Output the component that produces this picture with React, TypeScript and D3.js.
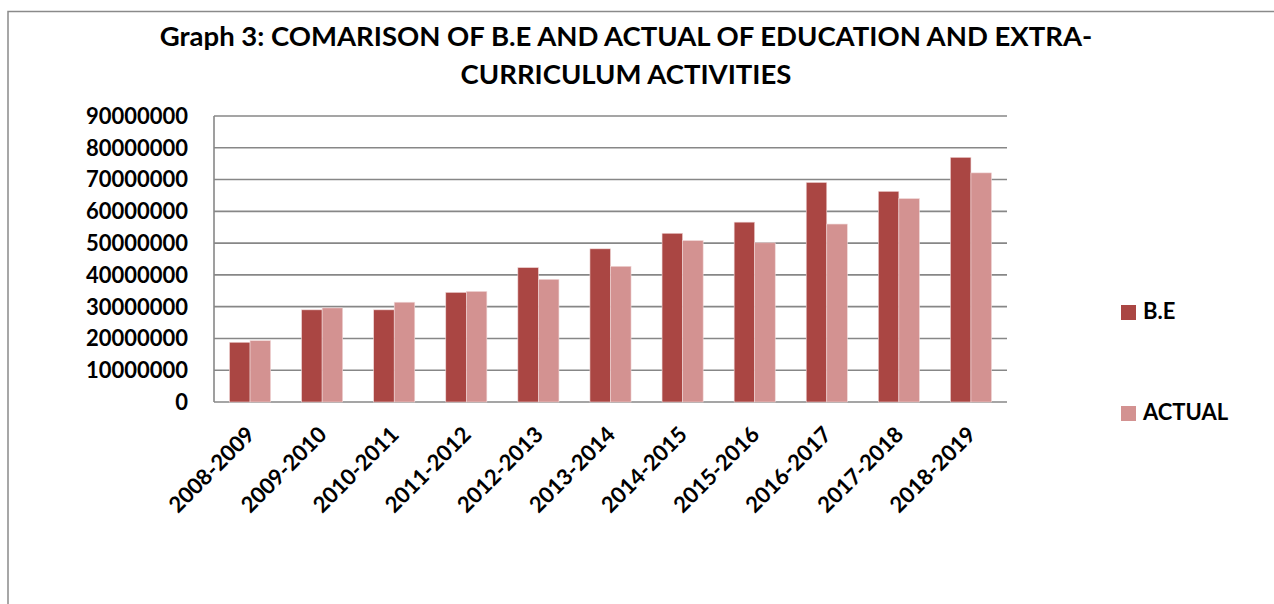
import React from 'react';
import * as d3 from 'd3';

// fiscal years on the x axis
const years = [
  '2008-2009', '2009-2010', '2010-2011', '2011-2012', '2012-2013', '2013-2014',
  '2014-2015', '2015-2016', '2016-2017', '2017-2018', '2018-2019',
];

// budget estimate vs actual spending
const beValues = [18800000, 29000000, 29000000, 34500000, 42300000, 48200000, 53100000, 56600000, 69100000, 66300000, 77000000];
const actualValues = [19300000, 29600000, 31400000, 34800000, 38600000, 42700000, 50800000, 50100000, 56000000, 64000000, 72100000];

const seriesNames = ['B.E', 'ACTUAL'];
const seriesColors = ['#AA4643', '#D39291'];
const yTicks = [0, 10000000, 20000000, 30000000, 40000000, 50000000, 60000000, 70000000, 80000000, 90000000];

const titleLines = ['Graph 3: COMARISON OF B.E AND ACTUAL OF EDUCATION AND EXTRA-', 'CURRICULUM ACTIVITIES'];

const W = 1274;
const H = 604;
const plot = { left: 214, right: 1007, top: 116, bottom: 402 };
const font = 'Lato, "Open Sans", sans-serif';

const App: React.FC = () => {
  const x0 = d3.scaleBand<string>()
    .domain(years)
    .range([plot.left, plot.right])
    .paddingInner(0.43)
    .paddingOuter(0.215);

  const x1 = d3.scaleBand<string>()
    .domain(seriesNames)
    .range([0, x0.bandwidth()]);

  const y = d3.scaleLinear()
    .domain([0, 90000000])
    .range([plot.bottom, plot.top]);

  const data = [beValues, actualValues];

  return (
    <svg width={W} height={H} style={{ position: 'fixed', left: 0, top: 0, background: '#fff' }}>
      {/* chart frame, runs off the right and bottom */}
      <rect x={8} y={11.5} width={W + 20} height={H + 20} fill="#fff" stroke="#8a8a8a" strokeWidth={1.5} />

      {titleLines.map((t, i) => (
        <text key={i} x={626} y={46 + i * 38} textAnchor="middle" fontFamily={font}
          fontWeight="bold" fontSize={27.5} fill="#000">{t}</text>
      ))}

      {/* gridlines */}
      {yTicks.map(t => (
        <line key={t} x1={plot.left} x2={plot.right} y1={y(t)} y2={y(t)} stroke="#878787" strokeWidth={1.6} />
      ))}
      <line x1={plot.left} x2={plot.left} y1={plot.top} y2={plot.bottom} stroke="#878787" strokeWidth={1.6} />

      {/* y labels */}
      {yTicks.map(t => (
        <text key={t} x={188} y={y(t)} dy="0.36em" textAnchor="end" fontFamily={font}
          fontWeight="bold" fontSize={22} fill="#000">{t}</text>
      ))}

      {/* bars */}
      {years.map((yr, i) => (
        <g key={yr} transform={`translate(${x0(yr)},0)`}>
          {seriesNames.map((s, j) => (
            <rect key={s} x={x1(s)} y={y(data[j][i])} width={x1.bandwidth()}
              height={y(0) - y(data[j][i])} fill={seriesColors[j]} stroke="#f0d8d8" strokeWidth={0.6} />
          ))}
        </g>
      ))}

      {/* x labels */}
      {years.map(yr => {
        const cx = (x0(yr) as number) + x0.bandwidth() / 2 + 6;
        const cy = 436;
        return (
          <text key={yr} transform={`translate(${cx},${cy}) rotate(-45)`} textAnchor="end"
            fontFamily={font} fontWeight="bold" fontSize={22} fill="#000">{yr}</text>
        );
      })}

      {/* legend */}
      {seriesNames.map((s, j) => (
        <g key={s} transform={`translate(1121,${305 + j * 101})`}>
          <rect width={15} height={15} fill={seriesColors[j]} />
          <text x={22} y={14} fontFamily={font} fontWeight="bold" fontSize={22} fill="#000">{s}</text>
        </g>
      ))}
    </svg>
  );
};

export default App;
